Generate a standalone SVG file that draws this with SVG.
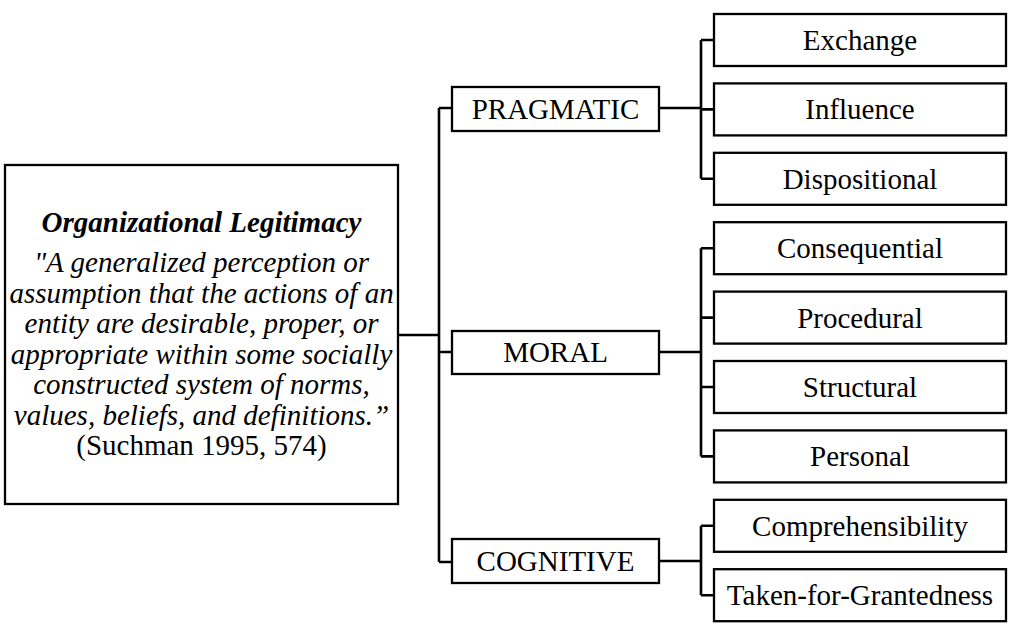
<svg xmlns="http://www.w3.org/2000/svg" width="1013" height="634" viewBox="0 0 1013 634">
<style>
.box{fill:#fff;stroke:#000;stroke-width:2.3}
.ln{fill:none;stroke:#000;stroke-width:2.6}
.t{font-family:"Liberation Serif","Times New Roman",serif;font-size:29px;fill:#000;text-anchor:middle}
.q{font-style:italic}
.b{font-weight:bold;font-style:italic}
</style>
<rect width="1013" height="634" fill="#fff"/>
<g id="connectors">
<path class="ln" d="M398 335H439M439 108V562M439 108H452M439 352H452M439 562H452"/>
<path class="ln" d="M659 108H701M701 40V178.8M701 40H714M701 109.4H714M701 178.8H714"/>
<path class="ln" d="M659 352H701M701 248.2V456.4M701 248.2H714M701 317.6H714M701 387H714M701 456.4H714"/>
<path class="ln" d="M659 561H701M701 525.8V595.2M701 525.8H714M701 595.2H714"/>
</g>
<g id="root">
<rect class="box" x="5" y="165" width="393" height="339"/>
<text class="t b" x="201.5" y="232">Organizational Legitimacy</text>
<text class="t q" x="201.5" y="272">"A generalized perception or</text>
<text class="t q" x="201.5" y="302.5">assumption that the actions of an</text>
<text class="t q" x="201.5" y="333">entity are desirable, proper, or</text>
<text class="t q" x="201.5" y="363.5">appropriate within some socially</text>
<text class="t q" x="201.5" y="394">constructed system of norms,</text>
<text class="t q" x="201.5" y="424.5">values, beliefs, and definitions.”</text>
<text class="t" x="201.5" y="455">(Suchman 1995, 574)</text>
</g>
<g id="pragmatic"><rect class="box" x="452" y="87" width="207" height="44"/><text class="t" x="555.5" y="118.5">PRAGMATIC</text></g>
<g id="moral"><rect class="box" x="452" y="331" width="207" height="43"/><text class="t" x="555.5" y="362">MORAL</text></g>
<g id="cognitive"><rect class="box" x="452" y="539" width="207" height="44"/><text class="t" x="555.5" y="571">COGNITIVE</text></g>
<g id="exchange"><rect class="box" x="714" y="14" width="292" height="52"/><text class="t" x="860" y="50">Exchange</text></g>
<g id="influence"><rect class="box" x="714" y="83.4" width="292" height="52"/><text class="t" x="860" y="119.4">Influence</text></g>
<g id="dispositional"><rect class="box" x="714" y="152.8" width="292" height="52"/><text class="t" x="860" y="188.8">Dispositional</text></g>
<g id="consequential"><rect class="box" x="714" y="222.2" width="292" height="52"/><text class="t" x="860" y="258.2">Consequential</text></g>
<g id="procedural"><rect class="box" x="714" y="291.6" width="292" height="52"/><text class="t" x="860" y="327.6">Procedural</text></g>
<g id="structural"><rect class="box" x="714" y="361" width="292" height="52"/><text class="t" x="860" y="397">Structural</text></g>
<g id="personal"><rect class="box" x="714" y="430.4" width="292" height="52"/><text class="t" x="860" y="466.4">Personal</text></g>
<g id="comprehensibility"><rect class="box" x="714" y="499.8" width="292" height="52"/><text class="t" x="860" y="535.8">Comprehensibility</text></g>
<g id="taken"><rect class="box" x="714" y="569.2" width="292" height="52"/><text class="t" x="860" y="605.2">Taken-for-Grantedness</text></g>
</svg>
